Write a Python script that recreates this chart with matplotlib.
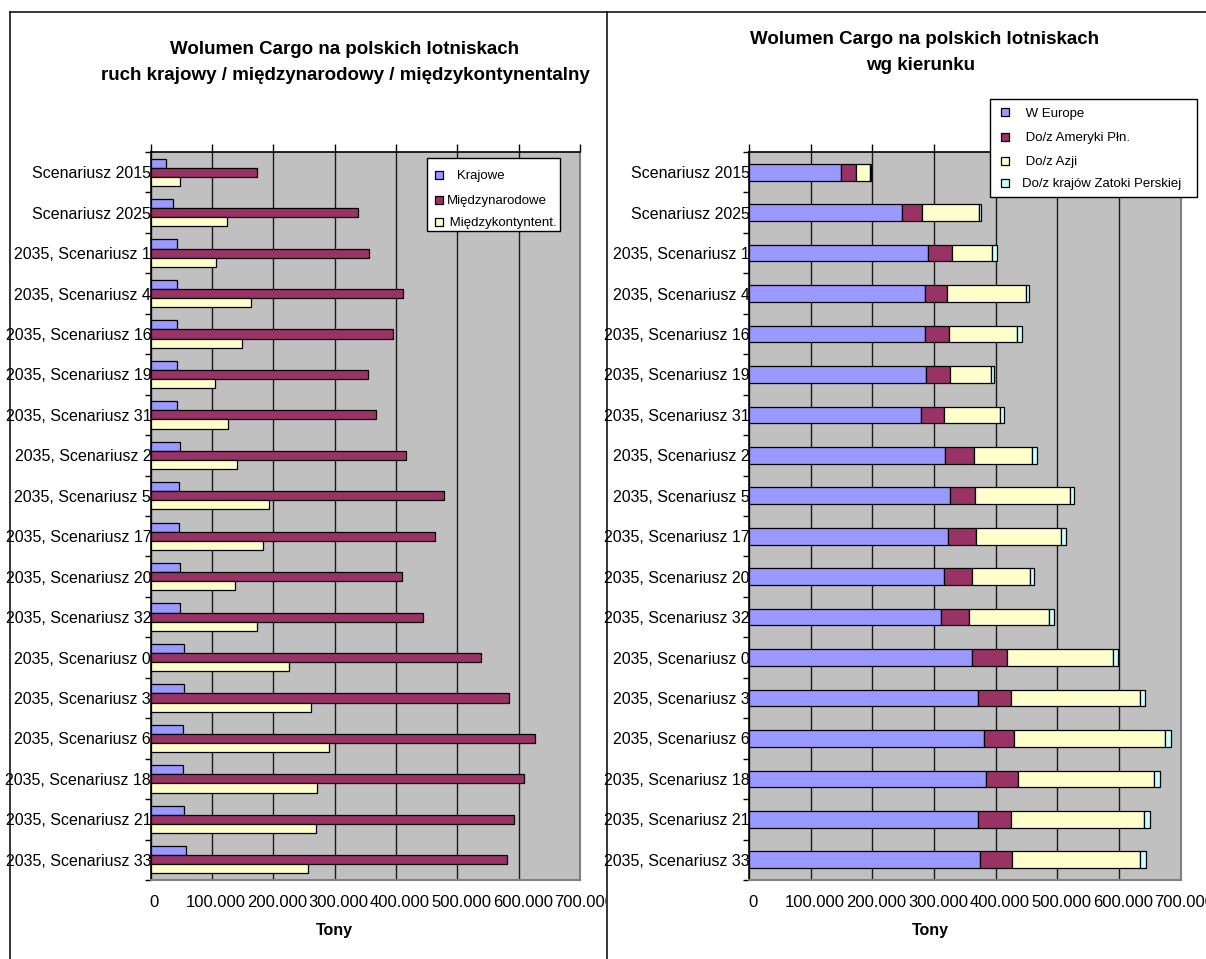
import matplotlib
matplotlib.use("Agg")
import matplotlib.pyplot as plt
from matplotlib.lines import Line2D
from matplotlib.patches import Rectangle
from matplotlib.ticker import FuncFormatter, FixedLocator
from matplotlib.transforms import ScaledTranslation, Bbox
import numpy as np

plt.rcParams['font.family'] = ['Liberation Sans', 'DejaVu Sans']

categories = [
    "Scenariusz 2015", "Scenariusz 2025", "2035, Scenariusz 1", "2035, Scenariusz 4",
    "2035, Scenariusz 16", "2035, Scenariusz 19", "2035, Scenariusz 31", "2035, Scenariusz 2",
    "2035, Scenariusz 5", "2035, Scenariusz 17", "2035, Scenariusz 20", "2035, Scenariusz 32",
    "2035, Scenariusz 0", "2035, Scenariusz 3", "2035, Scenariusz 6", "2035, Scenariusz 18",
    "2035, Scenariusz 21", "2035, Scenariusz 33",
]

# Traffic type (tonnes)
krajowe = [25000, 37000, 44000, 43000, 43000, 44000, 44000, 47500, 46000, 46000,
           48000, 48000, 54000, 54000, 53000, 53000, 55000, 58000]
miedzynarodowe = [174000, 337500, 356000, 412000, 396000, 354000, 367500, 417000, 478000,
                  463000, 410000, 444000, 539000, 584000, 626000, 608000, 592000, 581000]
miedzykontynentalne = [47500, 125000, 107000, 164000, 149000, 105000, 127000, 140500, 193000,
                       183000, 138000, 174000, 226000, 261000, 291000, 271500, 270000, 257500]

# Direction (tonnes)
europa = [148500, 248000, 290000, 285000, 285000, 287000, 279000, 318000, 326000,
          323000, 317000, 312000, 362000, 371000, 382000, 384000, 371000, 375000]
ameryka_pln = [25500, 33000, 39000, 36000, 39000, 39000, 37000, 47000, 40000,
               46000, 45000, 45000, 57000, 54000, 48000, 52000, 54000, 51000]
azja = [22000, 92000, 66000, 129000, 110000, 67000, 91000, 94000, 154000,
        137000, 94000, 130000, 171000, 209000, 245000, 221000, 216000, 208000]
zatoka_perska = [1500, 4000, 7000, 5000, 9000, 4000, 7000, 8000, 8000,
                 9000, 7000, 8000, 8000, 9000, 9000, 9000, 9000, 10000]

x_ticks = [0, 100000, 200000, 300000, 400000, 500000, 600000, 700000]

C_BLUE = '#9999FF'
C_PLUM = '#993366'
C_CREAM = '#FFFFCC'
C_CYAN = '#CCFFFF'
C_BG = '#C0C0C0'

W, H = 1206, 959
fig = plt.figure(figsize=(W / 100, H / 100), dpi=100)
fig.patch.set_facecolor('white')


def rect(x0, x1, y0, y1):
    return [x0 / W, 1 - y1 / H, (x1 - x0) / W, (y1 - y0) / H]


def fy(y):
    return 1 - y / H


def fx(x):
    return x / W


def thousands(v, pos):
    return f"{int(round(v)):,}".replace(",", ".")


def style_axes(ax):
    n = len(categories)
    ax.set_facecolor(C_BG)
    ax.set_xlim(0, 700000)
    ax.set_ylim(n - 0.5, -0.5)
    ax.xaxis.set_major_locator(FixedLocator(x_ticks))
    ax.xaxis.set_major_formatter(FuncFormatter(thousands))
    ax.grid(axis='x', color='#1a1a1a', linewidth=1.0, zorder=0)
    ax.set_axisbelow(True)
    ax.tick_params(axis='x', top=True, bottom=False, labeltop=False, labelbottom=True,
                   direction='out', length=5.5, width=1.0, pad=5.0, labelsize=12,
                   color='black')
    ax.set_yticks(np.arange(n))
    ax.set_yticklabels(categories)
    ax.set_yticks(np.arange(n + 1) - 0.5, minor=True)
    ax.tick_params(axis='y', which='major', length=0, pad=-0.5, labelsize=11.5)
    ax.tick_params(axis='y', which='minor', length=4, width=1.0, direction='out',
                   color='black')
    for side in ('top', 'left'):
        ax.spines[side].set_color('black')
        ax.spines[side].set_linewidth(1.2)
    for side in ('right', 'bottom'):
        ax.spines[side].set_color('#808080')
        ax.spines[side].set_linewidth(1.5)


y = np.arange(len(categories))

# Left: grouped bars by traffic type
ax1 = fig.add_axes(rect(150.5, 580, 152, 880))
style_axes(ax1)
bh = 0.225
ax1.barh(y - bh, krajowe, height=bh, color=C_BLUE, edgecolor='black', linewidth=0.9, zorder=3)
ax1.barh(y, miedzynarodowe, height=bh, color=C_PLUM, edgecolor='black', linewidth=0.9, zorder=3)
ax1.barh(y + bh, miedzykontynentalne, height=bh, color=C_CREAM, edgecolor='black',
         linewidth=0.9, zorder=3)

# Right: stacked bars by direction
ax2 = fig.add_axes(rect(749, 1180.5, 152, 880))
style_axes(ax2)
sh = 0.41
left = np.zeros(len(categories))
for vals, col in ((europa, C_BLUE), (ameryka_pln, C_PLUM), (azja, C_CREAM), (zatoka_perska, C_CYAN)):
    ax2.barh(y, vals, height=sh, left=left, color=col, edgecolor='black', linewidth=0.9, zorder=3)
    left = left + np.array(vals)

# Titles
TFS = 13.5
fig.text(fx(344), fy(50), "Wolumen Cargo na polskich lotniskach", ha='center', va='center',
         fontsize=TFS, fontweight='bold')
fig.text(fx(345), fy(76), "ruch krajowy / międzynarodowy / międzykontynentalny", ha='center',
         va='center', fontsize=TFS, fontweight='bold')
fig.text(fx(925), fy(40), "Wolumen Cargo na polskich lotniskach", ha='center', va='center',
         fontsize=TFS, fontweight='bold')
fig.text(fx(921), fy(65), "wg kierunku", ha='center', va='center', fontsize=TFS,
         fontweight='bold')

# Axis titles
fig.text(fx(334), fy(931), "Tony", ha='center', va='center', fontsize=11.5, fontweight='bold')
fig.text(fx(930), fy(931), "Tony", ha='center', va='center', fontsize=11.5, fontweight='bold')


def draw_legend(box, entries, marker_x, text_x, rows, fs=9.5):
    x0, y0, x1, y1 = box
    fig.add_artist(Rectangle((fx(x0), fy(y1)), (x1 - x0) / W, (y1 - y0) / H,
                             transform=fig.transFigure, facecolor='white',
                             edgecolor='black', linewidth=1.0, zorder=5))
    for (label, col), ty in zip(entries, rows):
        fig.add_artist(Rectangle((fx(marker_x), fy(ty + 4)), 8 / W, 8 / H,
                                 transform=fig.transFigure, facecolor=col,
                                 edgecolor='black', linewidth=0.9, zorder=6))
        fig.text(fx(text_x), fy(ty), label, ha='left', va='center_baseline',
                 fontsize=fs, zorder=6)


draw_legend((427, 158, 560, 231),
            [("   Krajowe", C_BLUE), ("Międzynarodowe", C_PLUM), (" Międzykontyntent.", C_CREAM)],
            435, 446.5, [174.5, 199.5, 222])
draw_legend((990, 99, 1197, 197),
            [(" W Europe", C_BLUE), (" Do/z Ameryki Płn.", C_PLUM), (" Do/z Azji", C_CREAM),
             ("Do/z krajów Zatoki Perskiej", C_CYAN)],
            1001, 1022, [112, 137, 160.5, 183])

# Chart frames
lw = 1.1
fig.add_artist(Line2D([fx(10), fx(1206)], [fy(12), fy(12)], transform=fig.transFigure,
                      color='black', linewidth=lw, zorder=10))
fig.add_artist(Line2D([fx(10), fx(10)], [fy(12), fy(960)], transform=fig.transFigure,
                      color='black', linewidth=lw, zorder=10))
fig.add_artist(Line2D([fx(607), fx(607)], [fy(12), fy(960)], transform=fig.transFigure,
                      color='black', linewidth=lw, zorder=10))

# Shift value labels slightly right and keep left chart text inside its frame
fig.canvas.draw()
shift = ScaledTranslation(4 / 100, 0, fig.dpi_scale_trans)
for ax in (ax1, ax2):
    for t in ax.xaxis.get_major_ticks():
        t.label1.set_transform(t.label1.get_transform() + shift)
for t in ax1.xaxis.get_major_ticks():
    t.label1.set_clip_box(Bbox.from_extents(10, 0, 606, H))

fig.savefig("out.png", dpi=100)
